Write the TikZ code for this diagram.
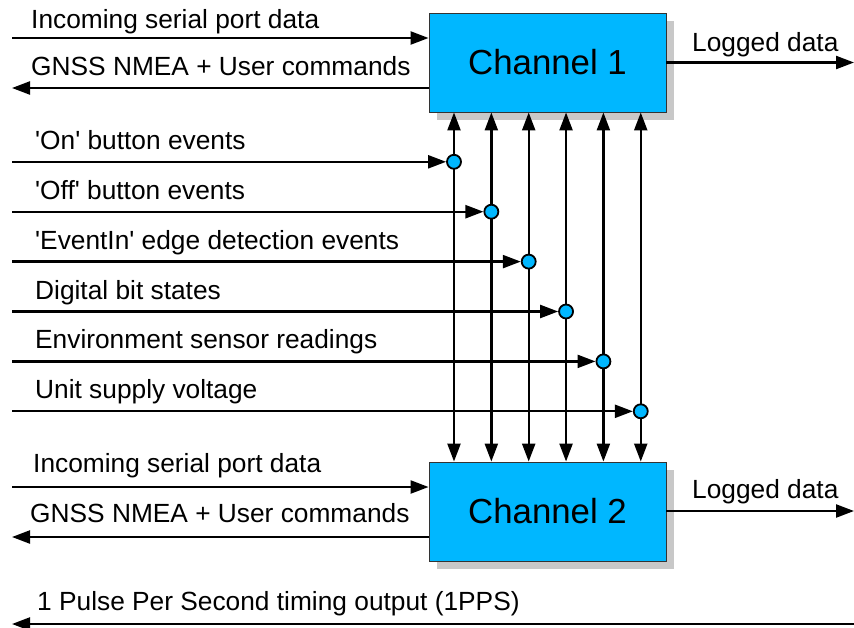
\documentclass[tikz,border=0pt]{standalone}
\usepackage{fontspec}
\setmainfont{Liberation Sans}
\usetikzlibrary{arrows.meta,shadows}
\definecolor{chblue}{RGB}{0,183,255}
\definecolor{shadowgray}{RGB}{200,200,200}
\begin{document}
\begin{tikzpicture}[x=1pt,y=-1pt,
  lbl/.style={anchor=base west,inner sep=0pt,font=\fontsize{26.3}{31}\selectfont},
  chbox/.style={draw=black!80,line width=0.9pt,fill=chblue,minimum width=237pt,minimum height=99pt,
    inner sep=0pt,font=\fontsize{34.8}{40}\selectfont,
    drop shadow={shadow xshift=8pt,shadow yshift=-8pt,fill=shadowgray,opacity=1}},
  conn/.style={line width=2.3pt,-{Triangle[length=18pt,width=13pt]}},
  biconn/.style={line width=2.3pt,{Triangle[length=18pt,width=13pt]}-{Triangle[length=18pt,width=13pt]}},
  jdot/.style={circle,draw=black,line width=1.8pt,fill=chblue,minimum size=14pt,inner sep=0pt}]
\useasboundingbox (0,0) rectangle (854,627);
% channel boxes
\node[chbox] (ch1) at (547.5,62.5) {Channel 1};
\node[chbox] (ch2) at (547.5,511.5) {Channel 2};
% channel 1 serial lines
\coordinate (in1) at (12,38);
\coordinate (g1) at (12,88);
\coordinate (lo1) at (854,62.5);
\draw[conn] (in1) -- (in1 -| ch1.west);
\draw[conn] (g1 -| ch1.west) -- (g1);
\draw[conn] (ch1.east |- lo1) -- (lo1);
\node[lbl] (tin1) at (31,28) {Incoming serial port data};
\node[lbl] (tg1) at (31,75) {GNSS NMEA + User commands};
\node[lbl] (tlo1) at (692,51) {Logged data};
% channel 2 serial lines
\coordinate (in2) at (12,487);
\coordinate (g2) at (12,537);
\coordinate (lo2) at (854,511);
\draw[conn] (in2) -- (in2 -| ch2.west);
\draw[conn] (g2 -| ch2.west) -- (g2);
\draw[conn] (ch2.east |- lo2) -- (lo2);
\node[lbl] (tin2) at (33,472) {Incoming serial port data};
\node[lbl] (tg2) at (30,522) {GNSS NMEA + User commands};
\node[lbl] (tlo2) at (692,498) {Logged data};
% shared event lines
\foreach \i/\txt in {0/{\textquotesingle On\textquotesingle{} button events},1/{\textquotesingle Off\textquotesingle{} button events},2/{\textquotesingle EventIn\textquotesingle{} edge detection events},3/{Digital bit states},4/{Environment sensor readings},5/{Unit supply voltage}}{
  \coordinate (v\i) at ({454+37.35*\i},{161.8+49.9*\i});
  \coordinate (s\i) at (12,{161.8+49.9*\i});
  \draw[biconn] (ch1.south -| v\i) -- (ch2.north -| v\i);
  \node[jdot] (d\i) at (v\i) {};
  \draw[conn] (s\i) -- (d\i.west);
  \node[lbl] (t\i) at (35,{149.3+49.9*\i}) {\txt};
}
% 1PPS
\coordinate (pa) at (854,624);
\coordinate (pb) at (12,624);
\draw[conn] (pa) -- (pb);
\node[lbl] (tpps) at (37,610) {1 Pulse Per Second timing output (1PPS)};
\end{tikzpicture}
\end{document}
